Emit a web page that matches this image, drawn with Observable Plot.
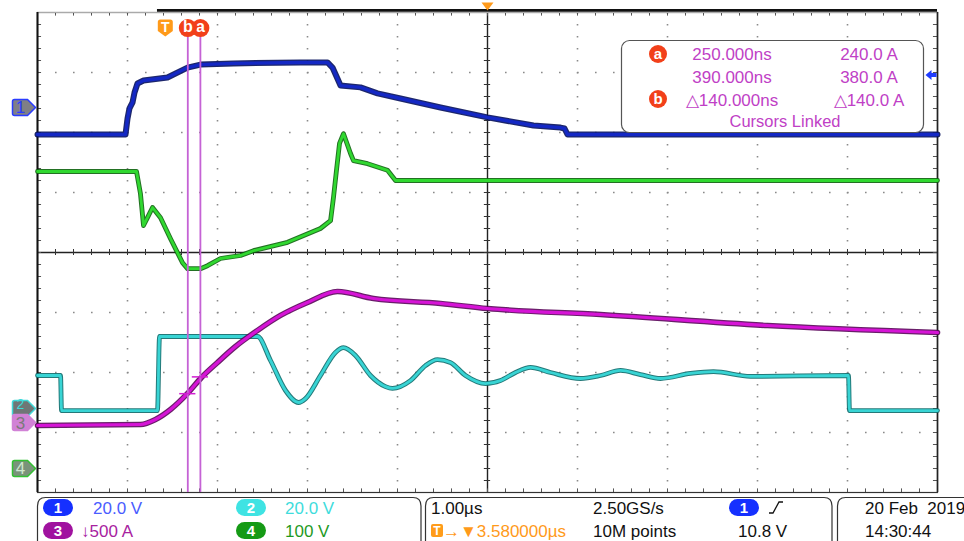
<!DOCTYPE html>
<html>
<head>
<meta charset="utf-8">
<script src="https://cdn.jsdelivr.net/npm/d3@7"></script>
<script src="https://cdn.jsdelivr.net/npm/@observablehq/plot@0.6"></script>
<style>
html, body { margin: 0; padding: 0; background: #fff; }
#wrap { position: relative; width: 964px; height: 541px; overflow: hidden; font-family: "Liberation Sans", Arial, sans-serif; }
#wrap > svg { position: absolute; left: 0; top: 0; }
</style>
</head>
<body>
<div id="wrap"></div>
<script>
// ---------- settings ----------
const timeDomain = [-1.42, 8.58];      // µs, 1.00 µs/div, trigger at t = 0
const divDomain = [-4, 4];             // vertical divisions
const horizPosition = 3.58;            // µs at screen centre
const cursorTimes = [0.25, 0.39];      // µs  (cursor a, cursor b)
const cursorAmps = [240, 380];         // A on channel 3
const trigLevel = 10.8;                // V on channel 1

const chNames = ["1", "2", "3", "4"];
const chScale = [20, 20, 500, 100];            // units per division
const chPos = [2.417, -2.6, -2.833, -3.6];     // ground marker (divisions)
const chLabels = ["20.0 V", "20.0 V", "\u2193500 A", "100 V"];

// ---------- traces: [time µs, value] ----------
const ch1Trace = [[-1.42,-9.0],[-0.442,-9.0],[-0.42,-3.7],[-0.398,-0.3],[-0.364,1.7],[-0.342,5.0],[-0.309,8.0],[-0.242,9.0],[0.024,10.0],[0.247,13.3],[0.391,14.3],[0.758,14.7],[1.502,15.0],[1.802,15.0],[1.858,13.3],[1.947,7.3],[2.169,6.7],[2.358,4.7],[2.613,3.0],[3.058,0.0],[3.58,-3.3],[4.091,-6.0],[4.391,-6.7],[4.436,-7.0],[4.469,-9.0],[8.58,-9.0]];
const ch2Trace = [[-1.42,11.0],[-1.164,11.0],[-1.153,-0.7],[-0.087,-0.7],[-0.064,24.0],[1.024,24.0],[1.169,16.0],[1.336,6.0],[1.48,2.0],[1.558,3.3],[1.724,11.0],[1.891,18.7],[1.98,20.3],[2.113,17.7],[2.28,11.0],[2.447,7.3],[2.524,6.7],[2.724,9.3],[2.891,14.3],[3.024,16.3],[3.169,15.3],[3.336,11.0],[3.558,8.3],[3.724,9.3],[3.891,12.0],[4.058,13.7],[4.28,12.0],[4.613,10.0],[4.836,11.0],[5.058,12.7],[5.28,11.3],[5.502,10.0],[5.836,11.7],[6.091,12.3],[6.502,10.7],[7.591,11.0],[7.602,-0.7],[8.58,-0.7]];
const ch3Trace = [[-1.42,-25],[-0.276,-17],[-0.109,25],[0.058,108],[0.247,242],[0.402,375],[0.58,500],[0.78,633],[1.024,767],[1.28,892],[1.58,1000],[1.913,1092],[2.313,1033],[3.058,992],[3.58,950],[4.836,900],[6.691,808],[8.58,750]];
const ch4Trace = [[-1.42,495],[-0.32,495],[-0.276,458],[-0.242,405],[-0.198,418],[-0.142,435],[-0.053,418],[0.058,383],[0.191,343],[0.247,333],[0.391,333],[0.469,338],[0.613,350],[0.836,355],[0.98,363],[1.358,377],[1.724,400],[1.836,413],[1.869,452],[1.902,497],[1.936,542],[1.98,558],[2.058,525],[2.091,513],[2.247,508],[2.469,497],[2.558,480],[8.58,480]];

const traceOver = ["#1428c4", "#38d4d4", "#d614d6", "#30d830"];
const traceUnder = ["#04105c", "#0c6a6a", "#5a065a", "#0b620b"];
const traceWidth = [[6, 3.4], [4.8, 2.8], [5.6, 3.2], [4.8, 2.8]];

// ---------- graticule helpers ----------
const [x0, x1] = timeDomain;
const majorX = d3.range(1, 10).map(i => x0 + i).filter(v => Math.abs(v - horizPosition) > 1e-6);
const majorY = [-3, -2, -1, 1, 2, 3];
const minorX = d3.range(1, 50).map(i => x0 + i * 0.2);
const minorY = d3.range(-19, 20).map(i => i * 0.2);

function traceMarks(data, i, curve) {
  const y = d => d[1] / chScale[i] + chPos[i];
  return [
    Plot.line(data, {x: d => d[0], y, stroke: traceUnder[i], strokeWidth: traceWidth[i][0], strokeOpacity: 0.9, curve, strokeLinejoin: "round"}),
    Plot.line(data, {x: d => d[0], y, stroke: traceOver[i], strokeWidth: traceWidth[i][1], curve, strokeLinejoin: "round"})
  ];
}

// custom symbols
const tagShape = {draw(c) { c.moveTo(-25, -6); c.quadraticCurveTo(-25, -8, -23, -8); c.lineTo(-10, -8); c.lineTo(-2, 0); c.lineTo(-10, 8); c.lineTo(-23, 8); c.quadraticCurveTo(-25, 8, -25, 6); c.closePath(); }};
const shieldShape = {draw(c) { c.moveTo(-7.5, -6); c.quadraticCurveTo(-7.5, -8.5, -5, -8.5); c.lineTo(5, -8.5); c.quadraticCurveTo(7.5, -8.5, 7.5, -6); c.lineTo(7.5, 3); c.lineTo(0, 8.5); c.lineTo(-7.5, 3); c.closePath(); }};
const downShape = {draw(c) { c.moveTo(-6, -10); c.lineTo(6, -10); c.lineTo(0, -2); c.closePath(); }};
const leftArrow = {draw(c) { c.moveTo(-12, 0); c.lineTo(-6, -5); c.lineTo(-6, -2); c.lineTo(-1, -2); c.lineTo(-1, 2); c.lineTo(-6, 2); c.lineTo(-6, 5); c.closePath(); }};

function tag(i, fill, stroke, textFill, dy = 0, size = 17) {
  return [
    Plot.dot([chPos[i]], {x: () => x0, y: d => d, symbol: tagShape, fill, stroke, strokeWidth: 1.5}),
    Plot.text([chNames[i]], {x: () => x0, y: () => chPos[i], dx: -17, dy, text: d => d, fill: textFill, fontSize: size})
  ];
}

const markerY = 3.74;
const chart = Plot.plot({
  width: 964, height: 541,
  marginLeft: 37, marginRight: 27, marginTop: 12, marginBottom: 49,
  x: {domain: timeDomain, axis: null},
  y: {domain: divDomain, axis: null},
  style: {background: "transparent", overflow: "visible", fontFamily: "Liberation Sans, Arial, sans-serif"},
  marks: [
    Plot.ruleX(majorX, {stroke: "#8a8a8a", strokeWidth: 1.6, strokeDasharray: "1.6,10.4"}),
    Plot.ruleY(majorY, {stroke: "#8a8a8a", strokeWidth: 1.6, strokeDasharray: "1.6,16.4"}),
    Plot.ruleX([horizPosition], {stroke: "#222", strokeWidth: 1.4}),
    Plot.ruleY([0], {stroke: "#222", strokeWidth: 1.4}),
    Plot.ruleY(minorY, {x1: horizPosition - 0.035, x2: horizPosition + 0.035, stroke: "#333", strokeWidth: 1}),
    Plot.ruleX(minorX, {y1: -0.05, y2: 0.05, stroke: "#333", strokeWidth: 1}),
    Plot.ruleY(minorY, {x1: x0, x2: x0 + 0.045, stroke: "#555", strokeWidth: 1}),
    Plot.ruleY(minorY, {x1: x1 - 0.045, x2: x1, stroke: "#555", strokeWidth: 1}),
    Plot.ruleX(minorX, {y1: 4, y2: 4 - 0.06, stroke: "#555", strokeWidth: 1}),
    Plot.ruleX(minorX, {y1: -4, y2: -4 + 0.06, stroke: "#555", strokeWidth: 1}),
    Plot.frame({stroke: "#333", strokeWidth: 1.2}),
    Plot.ruleY([4], {stroke: "#aaa", strokeWidth: 1.2}),
    Plot.ruleY([4.035], {x1: -0.087, x2: x1, stroke: "#111", strokeWidth: 2.6}),
    Plot.ruleX([x0], {stroke: "#111", strokeWidth: 2}),
    Plot.ruleX([x1], {stroke: "#222", strokeWidth: 1.6}),
    ...traceMarks(ch1Trace, 0, "linear"),
    ...traceMarks(ch4Trace, 3, "linear"),
    ...traceMarks(ch2Trace, 1, "monotone-x"),
    ...traceMarks(ch3Trace, 2, "monotone-x"),
    Plot.ruleX(cursorTimes, {y1: -4, y2: markerY - 0.1, stroke: "#c562d5", strokeWidth: 1.8}),
    Plot.ruleY(cursorTimes.map((t, i) => [t, cursorAmps[i]]), {y: d => d[1] / chScale[2] + chPos[2], x1: d => d[0] - 0.09, x2: d => d[0] + 0.09, stroke: "#d21fd2", strokeWidth: 1.5}),
    // channel tags
    ...tag(0, "#7f7f86", "#2a3cff", "#2a3cff"),
    ...tag(1, "#6f7676", "#3fd8d8", "#3fd8d8", -4, 14),
    ...tag(2, "#d182d6", "#d182d6", "#7a7a7a", 1, 17),
    ...tag(3, "#7a937a", "#33c033", "#cfe8cf"),
    // trigger "T", cursor markers
    Plot.dot([0], {x: d => d, y: () => markerY, symbol: shieldShape, fill: "#ff9a1a"}),
    Plot.text(["T"], {x: () => 0, y: () => markerY, dy: -1, text: d => d, fill: "#fff", fontWeight: "bold", fontSize: 14}),
    Plot.dot([cursorTimes[1]], {x: d => d, y: () => markerY, r: 9, fill: "#f2401a"}),
    Plot.text(["a"], {x: () => cursorTimes[1], y: () => markerY, dy: -1, text: d => d, fill: "#fff", fontWeight: "bold", fontSize: 16}),
    Plot.dot([cursorTimes[0]], {x: d => d, y: () => markerY, r: 9, fill: "#f2401a"}),
    Plot.text(["b"], {x: () => cursorTimes[0], y: () => markerY, dy: -1, text: d => d, fill: "#fff", fontWeight: "bold", fontSize: 16}),
    // horizontal position marker and trigger level arrow
    Plot.dot([horizPosition], {x: d => d, y: () => 4, symbol: downShape, fill: "#ff9a1a"}),
    Plot.dot([trigLevel], {x: () => x1, y: d => d / chScale[0] + chPos[0], symbol: leftArrow, fill: "#1f3cff"})
  ]
});
document.getElementById("wrap").appendChild(chart);

// ---------- readout box and status bar (text) ----------
const ov = d3.select("#wrap").append("svg")
  .attr("width", 964).attr("height", 541)
  .attr("font-family", "Liberation Sans, Arial, sans-serif");

const ro = ov.append("g");
ro.append("rect").attr("x", 621.5).attr("y", 40.5).attr("width", 302).attr("height", 92).attr("rx", 8)
  .attr("fill", "#fff").attr("stroke", "#555").attr("stroke-width", 1.2);
const fmtNs = t => (t * 1000).toFixed(3) + "ns";
const fmtA = a => a.toFixed(1) + " A";
const roRows = [
  [fmtNs(cursorTimes[0]), fmtA(cursorAmps[0]), 60],
  [fmtNs(cursorTimes[1]), fmtA(cursorAmps[1]), 83],
  ["\u25B3" + fmtNs(cursorTimes[1] - cursorTimes[0]), "\u25B3" + fmtA(cursorAmps[1] - cursorAmps[0]), 106]
];
roRows.forEach(([a, b, y]) => {
  ro.append("text").attr("x", 732).attr("y", y).attr("text-anchor", "middle").attr("fill", "#c03fc6").attr("font-size", 17).text(a);
  ro.append("text").attr("x", 869).attr("y", y).attr("text-anchor", "middle").attr("fill", "#c03fc6").attr("font-size", 17).text(b);
});
ro.append("text").attr("x", 785).attr("y", 127).attr("text-anchor", "middle").attr("fill", "#c03fc6").attr("font-size", 16.5).text("Cursors Linked");
[["a", 54], ["b", 99]].forEach(([l, cy]) => {
  ro.append("circle").attr("cx", 658).attr("cy", cy).attr("r", 9).attr("fill", "#f2401a");
  ro.append("text").attr("x", 658).attr("y", cy + 5).attr("text-anchor", "middle").attr("fill", "#fff").attr("font-weight", "bold").attr("font-size", 15).text(l);
});

// status bar boxes
const boxes = [[37.5, 421], [425.5, 832], [837.5, 990]];
boxes.forEach(([a, b]) => {
  ov.append("path").attr("d", `M${a},548 V506 Q${a},497.5 ${a + 8},497.5 H${b - 8} Q${b},497.5 ${b},506 V548`)
    .attr("fill", "none").attr("stroke", "#333").attr("stroke-width", 1.2);
});
const pillFill = ["#1530ff", "#3fe3e3", "#a0129f", "#159a15"];
const labelFill = ["#4a5cff", "#3fdcdc", "#a8229f", "#1f9a1f"];
const pillPos = [[43, 499, 93], [236, 499, 285], [43, 522, 81], [236, 522, 285]];
pillPos.forEach(([px, py, lx], i) => {
  ov.append("rect").attr("x", px).attr("y", py).attr("width", 30).attr("height", 17).attr("rx", 8.5).attr("fill", pillFill[i]);
  ov.append("text").attr("x", px + 15).attr("y", py + 14).attr("text-anchor", "middle").attr("fill", "#fff").attr("font-weight", "bold").attr("font-size", 15).text(chNames[i]);
  ov.append("text").attr("x", lx).attr("y", py + 15).attr("fill", labelFill[i]).attr("font-size", 17).text(chLabels[i]);
});
const txt = (x, y, s, fill = "#111") => ov.append("text").attr("x", x).attr("y", y).attr("fill", fill).attr("font-size", 17).attr("xml:space", "preserve").style("white-space", "pre").text(s);
txt(431, 514, "1.00\u00B5s");
ov.append("rect").attr("x", 431).attr("y", 524).attr("width", 12).attr("height", 13).attr("rx", 2).attr("fill", "#ff9c1a");
ov.append("text").attr("x", 437).attr("y", 535).attr("text-anchor", "middle").attr("fill", "#fff").attr("font-weight", "bold").attr("font-size", 12).text("T");
txt(443, 537, "\u2192\u25BC" + horizPosition.toFixed(6) + "\u00B5s", "#ff9a1a");
txt(593, 514, "2.50GS/s");
txt(593, 537, "10M points");
ov.append("rect").attr("x", 729).attr("y", 499).attr("width", 30).attr("height", 17).attr("rx", 8.5).attr("fill", pillFill[0]);
ov.append("text").attr("x", 744).attr("y", 513).attr("text-anchor", "middle").attr("fill", "#fff").attr("font-weight", "bold").attr("font-size", 15).text("1");
ov.append("path").attr("d", "M769,513 H773 L779,502 H783").attr("fill", "none").attr("stroke", "#111").attr("stroke-width", 1.3);
txt(738, 537, trigLevel.toFixed(1) + " V");
txt(865, 514, "20 Feb  2019");
txt(865, 537, "14:30:44");
</script>
</body>
</html>
